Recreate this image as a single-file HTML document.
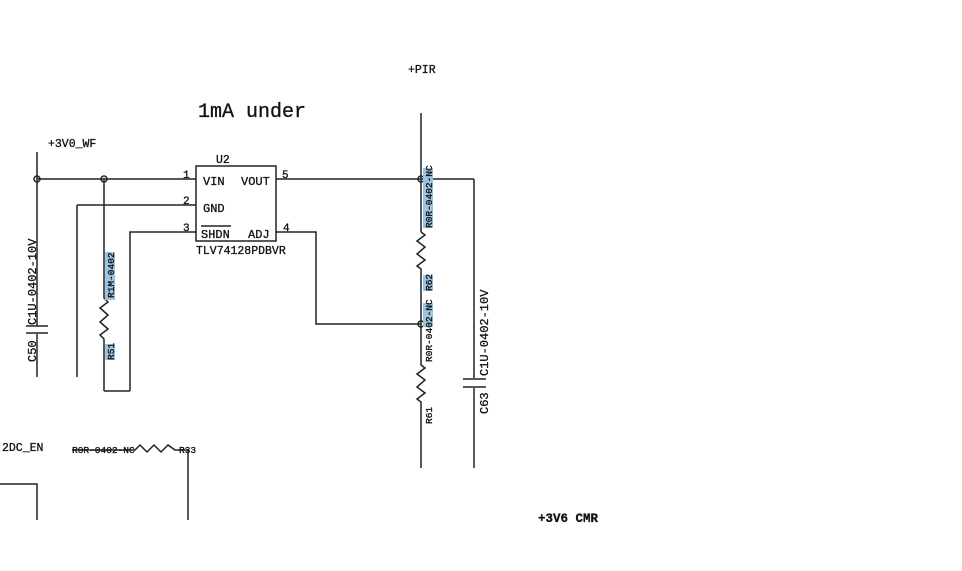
<!DOCTYPE html>
<html><head><meta charset="utf-8"><style>
html,body{margin:0;padding:0;background:#fff;width:962px;height:571px;overflow:hidden}
svg text{font-family:"Liberation Mono","DejaVu Sans Mono",monospace;fill:#111;stroke:#111;stroke-width:0.3}
</style></head><body>
<svg width="962" height="571" viewBox="0 0 962 571" xmlns="http://www.w3.org/2000/svg">
<g stroke="#222" stroke-width="1.5" fill="none">
<line x1="37" y1="152" x2="37" y2="326"/>
<line x1="37" y1="334" x2="37" y2="377"/>
<line x1="26" y1="326" x2="48" y2="326"/>
<line x1="26" y1="333" x2="48" y2="333"/>
<line x1="37" y1="179" x2="196" y2="179"/>
<circle cx="37" cy="179" r="3"/>
<circle cx="104" cy="179" r="3"/>
<line x1="77" y1="205" x2="196" y2="205"/>
<line x1="77" y1="205" x2="77" y2="377"/>
<polyline points="130,391 130,232 196,232"/>
<polyline points="104,391 130,391"/>
<polyline points="104,179 104,298 108,302 100,308 108,315 100,322 108,329 100,335 104,339 104,391"/>
<rect x="196" y="166" width="80" height="75"/>
<line x1="201" y1="226" x2="231" y2="226"/>
<line x1="276" y1="179" x2="474" y2="179"/>
<line x1="474" y1="179" x2="474" y2="378"/>
<line x1="474" y1="388" x2="474" y2="468"/>
<line x1="463" y1="379" x2="486" y2="379"/>
<line x1="463" y1="387" x2="486" y2="387"/>
<line x1="421" y1="113" x2="421" y2="232"/>
<polyline points="421,232 425,235 417,241 425,247 417,254 425,260 417,266 421,269 421,365 425,368 417,374 425,380 417,387 425,393 417,399 421,402 421,468"/>
<circle cx="421" cy="179" r="3"/>
<circle cx="421" cy="324" r="3"/>
<polyline points="276,232 316,232 316,324 421,324"/>
<polyline points="72,450 135,450 140,445 147,452 154,445 161,452 168,445 175,450 188,450 188,520"/>
<polyline points="0,484 37,484 37,520"/>
</g>
<g fill="#9cc3e0">
<rect x="105" y="252" width="10" height="48"/>
<rect x="105" y="344" width="10" height="16"/>
<rect x="423" y="168" width="10" height="60"/>
<rect x="423" y="275" width="10" height="16"/>
<rect x="423" y="303" width="10" height="24"/>
</g>
<text x="198" y="117" font-size="20">1mA under</text>
<text x="408" y="73" font-size="11.5">+PIR</text>
<text x="48" y="147" font-size="11.5">+3V0_WF</text>
<text x="216" y="163" font-size="11.5">U2</text>
<text x="183" y="178" font-size="11">1</text>
<text x="183" y="204" font-size="11">2</text>
<text x="183" y="231" font-size="11">3</text>
<text x="282" y="178" font-size="11">5</text>
<text x="283" y="231" font-size="11">4</text>
<text x="203" y="185" font-size="12">VIN</text>
<text x="241" y="185" font-size="12">VOUT</text>
<text x="203" y="212" font-size="12">GND</text>
<text x="201" y="238" font-size="12">SHDN</text>
<text x="248" y="238" font-size="12">ADJ</text>
<text x="196" y="254" font-size="11.5">TLV74128PDBVR</text>
<text transform="translate(36,325) rotate(-90)" font-size="12">C1U-0402-10V</text>
<text transform="translate(36,362) rotate(-90)" font-size="12">C50</text>
<text transform="translate(114,298) rotate(-90)" font-size="9.5">R1M-0402</text>
<text transform="translate(114,360) rotate(-90)" font-size="9.5">R51</text>
<text transform="translate(432,228) rotate(-90)" font-size="9.5">R0R-0402-NC</text>
<text transform="translate(432,291) rotate(-90)" font-size="9.5">R62</text>
<text transform="translate(432,362) rotate(-90)" font-size="9.5">R0R-0402-NC</text>
<text transform="translate(432,424) rotate(-90)" font-size="9.5">R61</text>
<text transform="translate(488,376) rotate(-90)" font-size="12">C1U-0402-10V</text>
<text transform="translate(488,414) rotate(-90)" font-size="12">C63</text>
<text x="2" y="451" font-size="11.5">2DC_EN</text>
<text x="72" y="453" font-size="9.5">R0R-0402-NC</text>
<text x="179" y="453" font-size="9.5">R33</text>
<text x="538" y="522" font-size="12.5" font-weight="bold">+3V6 CMR</text>
</svg>
</body></html>
